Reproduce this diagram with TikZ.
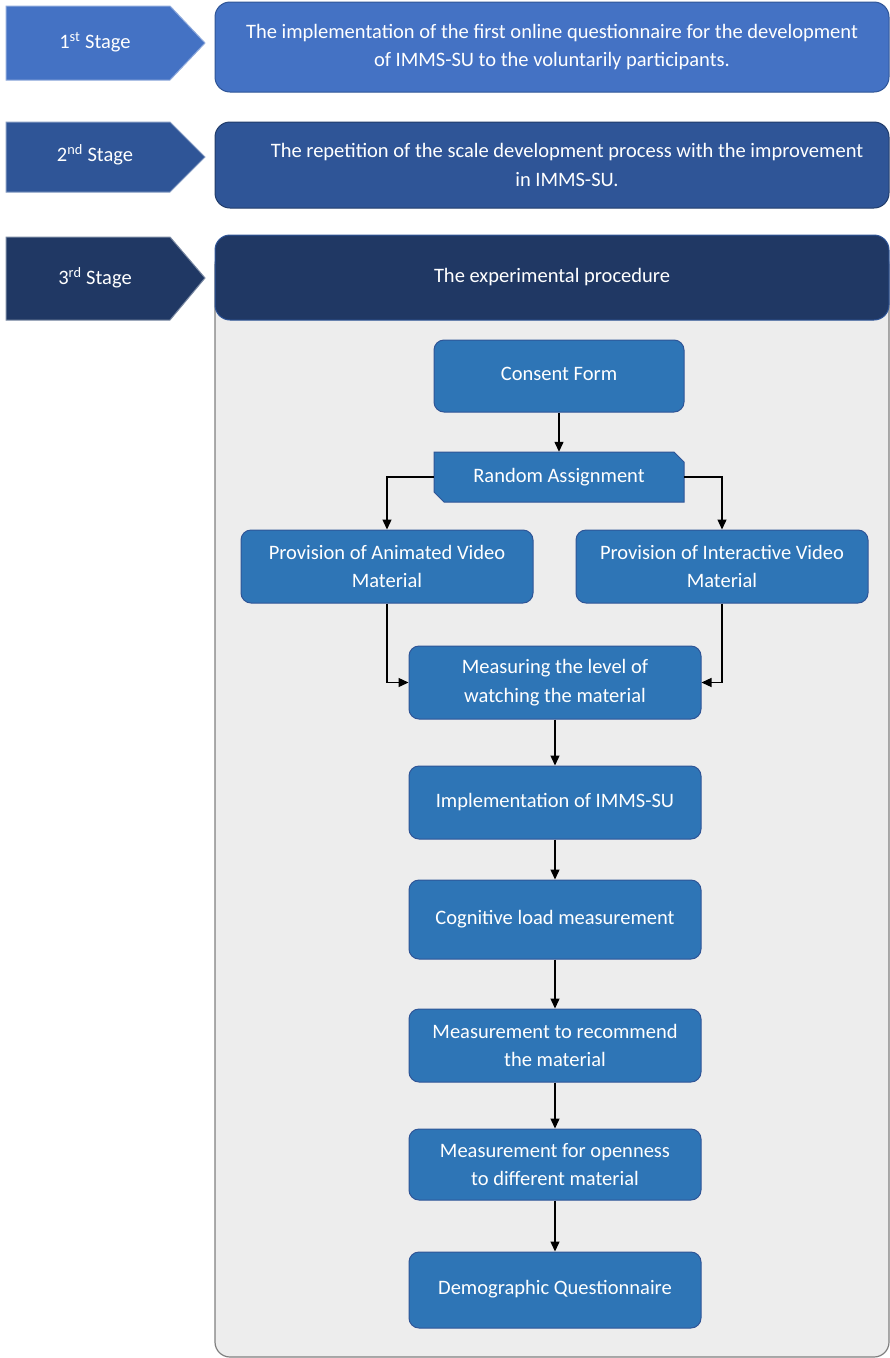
\documentclass[tikz,border=0pt]{standalone}
\usepackage{fontspec}
\setmainfont{Carlito}
\usetikzlibrary{arrows.meta,calc}
\definecolor{cA}{HTML}{4472C4}
\definecolor{cB}{HTML}{2F5597}
\definecolor{cC}{HTML}{203864}
\definecolor{inner}{HTML}{2E75B6}
\definecolor{innerb}{HTML}{2F5597}
\definecolor{grayfill}{HTML}{EDEDED}
\definecolor{grayb}{HTML}{7F7F7F}
\begin{document}
\begin{tikzpicture}[x=1pt,y=-1pt, font=\fontsize{20.5}{28.5}\selectfont,
  txt/.style={text=white, align=center, inner sep=0pt},
  stagebox/.style={rounded corners=15pt, line width=1pt, text=white, align=center, minimum width=674pt, inner sep=0pt},
  pent/.style={line width=1pt},
  box/.style={draw=innerb, fill=inner, rounded corners=10pt, line width=1pt, text=white, align=center, minimum width=292pt, minimum height=73pt, inner sep=0pt},
  conn/.style={line width=1.3pt, -{Triangle[length=10pt,width=9pt]}}]
\useasboundingbox (0,0) rectangle (890,1358);

% stage pentagons
\filldraw[pent, fill=cA, draw=cA!60!white] (6,6) -- (170,6) -- (205,43) -- (170,80) -- (6,80) -- cycle;
\node[txt] (s1) at (95,42) {1\textsuperscript{st} Stage};
\filldraw[pent, fill=cB, draw=cB!60!white] (6,122) -- (170,122) -- (205,157) -- (170,192) -- (6,192) -- cycle;
\node[txt] (s2) at (95,155) {2\textsuperscript{nd} Stage};
\filldraw[pent, fill=cC, draw=cC!60!white] (6,237) -- (170,237) -- (205,278) -- (170,320) -- (6,320) -- cycle;
\node[txt] (s3) at (95,278) {3\textsuperscript{rd} Stage};

% stage boxes
\node[stagebox, fill=cA, draw=cB, minimum height=90pt] (b1) at (552,47)
  {The implementation of the first online questionnaire for the development\\ of IMMS-SU to the voluntarily participants.};
\node[stagebox, fill=cB, draw=cB!70!black, minimum height=86pt] (b2) at (552,165) {};
\node[txt] (b2t) at (567,165) {The repetition of the scale development process with the improvement\\ in IMMS-SU.};

% container
\draw[fill=grayfill, draw=grayb, line width=1.2pt, rounded corners=15pt] (215,250) rectangle (889,1357);
\node[stagebox, fill=cC, draw=cB, minimum height=85pt] (b3) at (552,277.5) {The experimental procedure};

% inner flow
\node[box, minimum width=250pt, minimum height=72pt] (consent) at (559,376) {\raisebox{4pt}{Consent Form}};
\filldraw[fill=inner, draw=innerb, line width=1pt] (434,452) -- (674,452) -- (684,462) -- (684,502) -- (444,502) -- (434,492) -- cycle;
\node[txt, minimum width=250pt, minimum height=50pt] (rand) at (559,477) {Random Assignment};
\node[box] (anim) at (387,566.5) {Provision of Animated Video\\ Material};
\node[box] (inter) at (722,566.5) {Provision of Interactive Video\\ Material};
\node[box] (meas) at (555,682.5) {Measuring the level of\\ watching the material};
\node[box] (impl) at (555,802.5) {\raisebox{3pt}{Implementation of IMMS-SU}};
\node[box, minimum height=79pt] (cog) at (555,919.5) {\raisebox{2pt}{Cognitive load measurement}};
\node[box] (rec) at (555,1045.5) {Measurement to recommend\\ the material};
\node[box, minimum height=71pt] (open) at (555,1164.5) {Measurement for openness\\ to different material};
\node[box, minimum height=76pt] (demo) at (555,1290) {\raisebox{5pt}{Demographic Questionnaire}};

\draw[conn] (consent.south) -- (rand.north);
\draw[conn] (rand.west) -| (anim.north);
\draw[conn] (rand.east) -| (inter.north);
\draw[conn] (anim.south) |- (meas.west);
\draw[conn] (inter.south) |- (meas.east);
\draw[conn] (meas.south) -- (impl.north);
\draw[conn] (impl.south) -- (cog.north);
\draw[conn] (cog.south) -- (rec.north);
\draw[conn] (rec.south) -- (open.north);
\draw[conn] (open.south) -- (demo.north);
\end{tikzpicture}
\end{document}
